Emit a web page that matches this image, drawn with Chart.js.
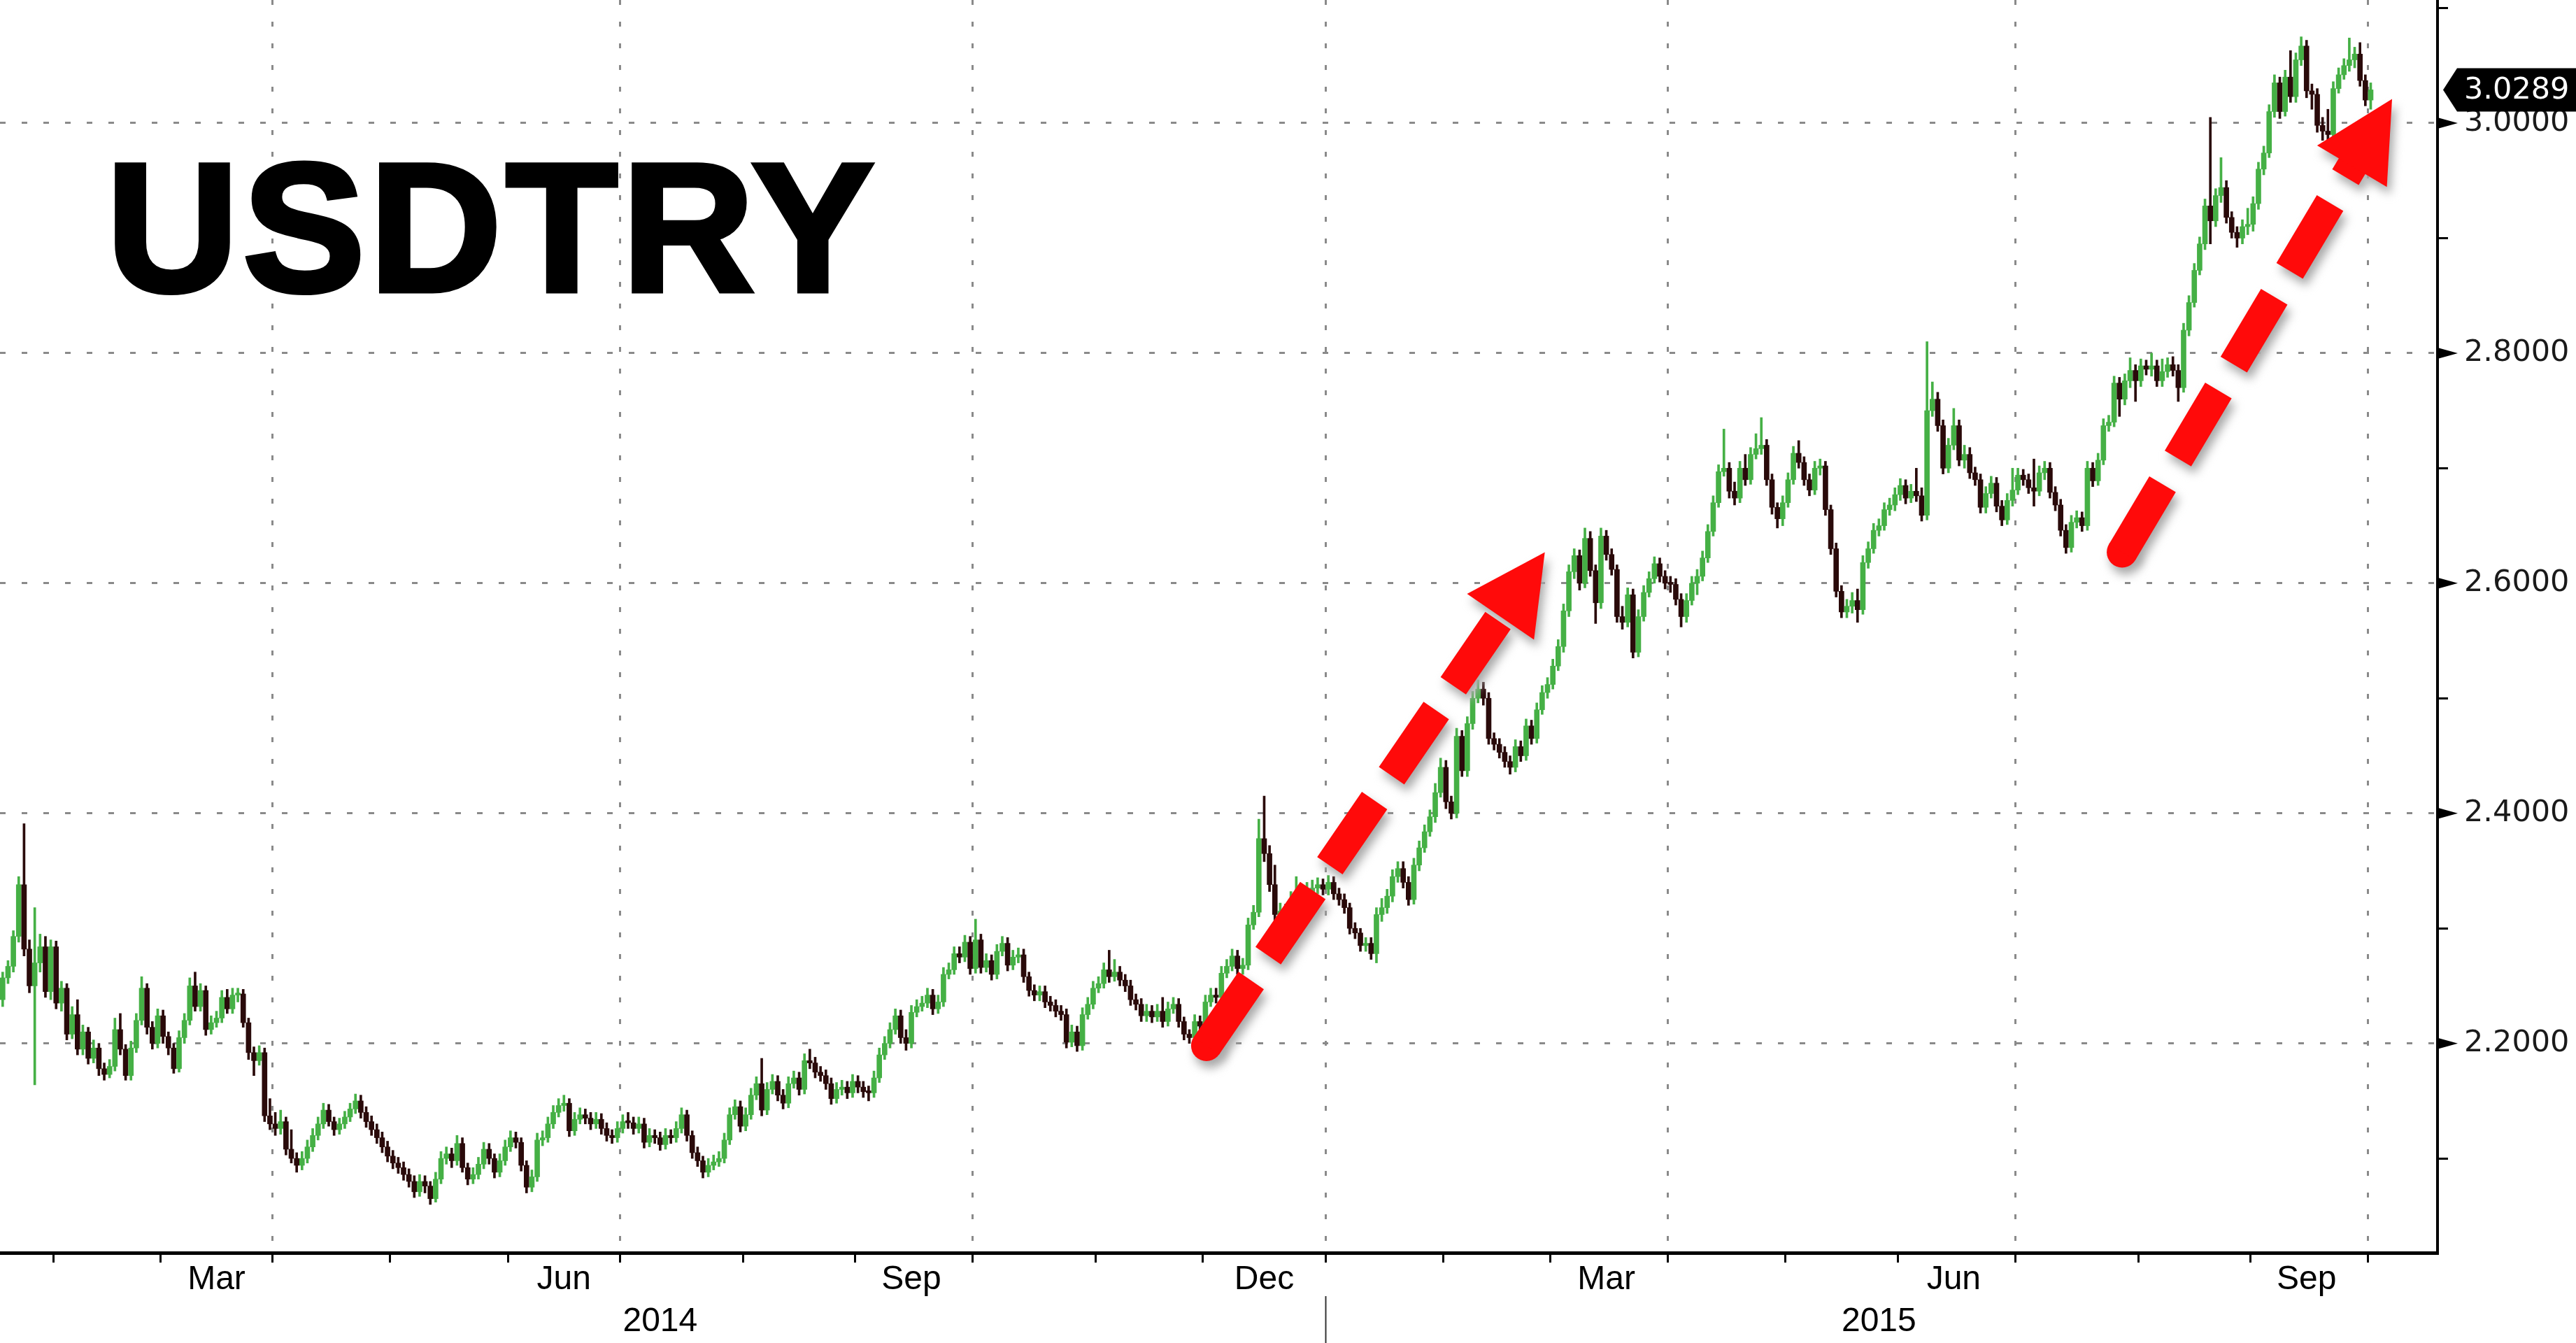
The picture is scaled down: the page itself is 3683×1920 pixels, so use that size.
<!DOCTYPE html>
<html>
<head>
<meta charset="utf-8">
<script src="https://cdn.jsdelivr.net/npm/chart.js@4.4.1/dist/chart.umd.min.js"></script>
<style>
  html, body { margin: 0; padding: 0; background: #fff; }
  canvas { display: block; }
</style>
</head>
<body>
<canvas id="usdtry" width="3683" height="1920"></canvas>
<script>
// USDTRY daily candles, 20 Jan 2014 - 1 Oct 2015 (one slot per weekday)
var startDate = '2014-01-20';
var slotCount = 456;            // weekday slots on the axis, incl. the empty space after the last bar
var firstOpen = 2.238;
var title = 'USDTRY';

var closes = [
  // 2014 Jan
  2.257, 2.267, 2.293, 2.338, 2.282, 2.250, 2.270, 2.284, 2.245, 2.284,
  // Feb
  2.235, 2.248, 2.208, 2.225, 2.195, 2.210, 2.187, 2.196, 2.178, 2.173, 2.180, 2.212, 2.195, 2.172, 2.196, 2.220, 2.248, 2.214, 2.200, 2.224,
  // Mar
  2.206, 2.196, 2.178, 2.205, 2.220, 2.250, 2.232, 2.246, 2.212, 2.218, 2.222, 2.240, 2.230, 2.242, 2.243, 2.218, 2.192, 2.185, 2.192, 2.137, 2.130,
  // Apr
  2.126, 2.132, 2.108, 2.100, 2.094, 2.100, 2.110, 2.120, 2.130, 2.142, 2.132, 2.125, 2.130, 2.136, 2.143, 2.150, 2.140, 2.132, 2.125, 2.118, 2.110, 2.102,
  // May
  2.096, 2.092, 2.086, 2.080, 2.071, 2.080, 2.076, 2.065, 2.082, 2.100, 2.104, 2.098, 2.113, 2.092, 2.082, 2.086, 2.095, 2.108, 2.100, 2.088, 2.098, 2.110,
  // Jun
  2.118, 2.114, 2.094, 2.075, 2.084, 2.116, 2.118, 2.130, 2.140, 2.146, 2.148, 2.124, 2.134, 2.138, 2.135, 2.130, 2.134, 2.126, 2.120, 2.118, 2.126,
  // Jul
  2.132, 2.131, 2.126, 2.130, 2.114, 2.120, 2.118, 2.112, 2.120, 2.118, 2.126, 2.138, 2.120, 2.105, 2.098, 2.088, 2.094, 2.097, 2.100, 2.116, 2.138, 2.145, 2.128,
  // Aug
  2.138, 2.155, 2.165, 2.142, 2.160, 2.167, 2.155, 2.148, 2.165, 2.170, 2.160, 2.185, 2.183, 2.175, 2.172, 2.165, 2.152, 2.160, 2.162, 2.157, 2.167,
  // Sep
  2.162, 2.158, 2.157, 2.170, 2.190, 2.200, 2.212, 2.224, 2.205, 2.200, 2.227, 2.232, 2.235, 2.242, 2.230, 2.236, 2.260, 2.264, 2.278, 2.275, 2.288, 2.265,
  // Oct
  2.290, 2.266, 2.272, 2.260, 2.280, 2.287, 2.268, 2.275, 2.277, 2.258, 2.246, 2.242, 2.245, 2.236, 2.233, 2.228, 2.225, 2.201, 2.210, 2.198, 2.225, 2.234, 2.248,
  // Nov
  2.252, 2.264, 2.258, 2.262, 2.255, 2.250, 2.238, 2.234, 2.224, 2.228, 2.223, 2.228, 2.219, 2.230, 2.234, 2.219, 2.208, 2.205, 2.219, 2.215,
  // Dec
  2.236, 2.242, 2.240, 2.261, 2.267, 2.276, 2.265, 2.268, 2.303, 2.314, 2.378, 2.365, 2.338, 2.312, 2.315, 2.312, 2.325, 2.330, 2.326, 2.332, 2.335, 2.338, 2.334,
  // 2015 Jan
  2.340, 2.330, 2.325, 2.318, 2.300, 2.296, 2.285, 2.287, 2.278, 2.312, 2.318, 2.328, 2.345, 2.352, 2.340, 2.325, 2.355, 2.370, 2.384, 2.397, 2.418, 2.440,
  // Feb
  2.410, 2.400, 2.467, 2.437, 2.478, 2.500, 2.508, 2.500, 2.465, 2.460, 2.453, 2.445, 2.440, 2.458, 2.450, 2.476, 2.465, 2.490, 2.505, 2.512,
  // Mar
  2.528, 2.545, 2.576, 2.610, 2.624, 2.600, 2.639, 2.611, 2.583, 2.641, 2.625, 2.612, 2.571, 2.566, 2.590, 2.540, 2.571, 2.592, 2.604, 2.617, 2.606, 2.600,
  // Apr
  2.599, 2.586, 2.571, 2.585, 2.600, 2.606, 2.622, 2.645, 2.670, 2.697, 2.700, 2.680, 2.674, 2.700, 2.690, 2.712, 2.717, 2.720, 2.690, 2.666, 2.656, 2.670,
  // May
  2.690, 2.713, 2.705, 2.690, 2.681, 2.700, 2.702, 2.664, 2.630, 2.593, 2.575, 2.580, 2.585, 2.577, 2.618, 2.630, 2.646, 2.650, 2.664, 2.668, 2.677,
  // Jun
  2.685, 2.674, 2.680, 2.676, 2.659, 2.750, 2.760, 2.737, 2.700, 2.720, 2.737, 2.707, 2.712, 2.696, 2.690, 2.666, 2.678, 2.687, 2.667, 2.655, 2.672, 2.681,
  // Jul
  2.694, 2.690, 2.683, 2.680, 2.696, 2.700, 2.679, 2.668, 2.646, 2.631, 2.653, 2.657, 2.650, 2.700, 2.689, 2.707, 2.737, 2.740, 2.774, 2.760, 2.776, 2.785, 2.776,
  // Aug
  2.789, 2.786, 2.789, 2.776, 2.784, 2.790, 2.785, 2.770, 2.820, 2.844, 2.872, 2.895, 2.928, 2.915, 2.937, 2.944, 2.918, 2.905, 2.900, 2.910, 2.912,
  // Sep
  2.930, 2.960, 2.974, 3.010, 3.035, 3.010, 3.040, 3.023, 3.055, 3.067, 3.028, 3.025, 2.998, 2.993, 2.990, 3.030, 3.042, 3.050, 3.055, 3.060, 3.037, 3.020,
  // Oct
  3.0289
];

var highs = [
  2.262, 2.272, 2.298, 2.345, 2.391, 2.290, 2.318, 2.295, 2.293, 2.290,
  2.289, 2.254, 2.252, 2.232, 2.238, 2.216, 2.214, 2.203, 2.200, 2.183, 2.186, 2.222, 2.226, 2.199, 2.202, 2.226, 2.258, 2.252, 2.219, 2.230,
  2.229, 2.210, 2.200, 2.211, 2.226, 2.257, 2.262, 2.252, 2.250, 2.224, 2.228, 2.246, 2.247, 2.248, 2.248, 2.247, 2.222, 2.197, 2.198, 2.196, 2.152,
  2.140, 2.142, 2.136, 2.125, 2.105, 2.106, 2.116, 2.126, 2.136, 2.148, 2.147, 2.136, 2.135, 2.141, 2.148, 2.156, 2.155, 2.145, 2.137, 2.130, 2.123, 2.115,
  2.107, 2.101, 2.097, 2.091, 2.085, 2.086, 2.085, 2.080, 2.088, 2.106, 2.110, 2.109, 2.120, 2.118, 2.096, 2.092, 2.101, 2.114, 2.113, 2.104, 2.104, 2.116,
  2.124, 2.123, 2.118, 2.098, 2.090, 2.122, 2.124, 2.136, 2.146, 2.152, 2.155, 2.152, 2.140, 2.144, 2.143, 2.140, 2.140, 2.139, 2.131, 2.125, 2.132,
  2.138, 2.140, 2.136, 2.136, 2.135, 2.126, 2.125, 2.123, 2.126, 2.125, 2.132, 2.144, 2.142, 2.124, 2.110, 2.102, 2.100, 2.103, 2.106, 2.122, 2.144, 2.151, 2.150,
  2.144, 2.161, 2.171, 2.187, 2.166, 2.173, 2.172, 2.160, 2.171, 2.176, 2.175, 2.191, 2.195, 2.188, 2.180, 2.177, 2.170, 2.166, 2.168, 2.167, 2.173,
  2.172, 2.167, 2.163, 2.176, 2.196, 2.206, 2.218, 2.230, 2.229, 2.212, 2.233, 2.238, 2.241, 2.248, 2.247, 2.242, 2.266, 2.270, 2.284, 2.284, 2.294, 2.293,
  2.308, 2.295, 2.278, 2.277, 2.286, 2.293, 2.292, 2.281, 2.283, 2.282, 2.262, 2.251, 2.250, 2.250, 2.241, 2.238, 2.233, 2.230, 2.216, 2.215, 2.231, 2.240, 2.254,
  2.258, 2.270, 2.281, 2.273, 2.267, 2.260, 2.255, 2.243, 2.239, 2.234, 2.233, 2.234, 2.240, 2.236, 2.240, 2.239, 2.223, 2.212, 2.225, 2.224,
  2.242, 2.248, 2.248, 2.267, 2.273, 2.282, 2.281, 2.274, 2.309, 2.320, 2.395, 2.415, 2.372, 2.355, 2.322, 2.321, 2.332, 2.345, 2.336, 2.340, 2.342, 2.344, 2.343,
  2.346, 2.345, 2.335, 2.330, 2.322, 2.305, 2.300, 2.292, 2.292, 2.318, 2.326, 2.334, 2.351, 2.358, 2.358, 2.345, 2.361, 2.376, 2.390, 2.403, 2.426, 2.448,
  2.446, 2.415, 2.474, 2.472, 2.484, 2.506, 2.516, 2.514, 2.505, 2.470, 2.465, 2.458, 2.450, 2.464, 2.463, 2.482, 2.481, 2.496, 2.511, 2.518,
  2.534, 2.551, 2.582, 2.616, 2.630, 2.629, 2.648, 2.645, 2.616, 2.648, 2.646, 2.630, 2.616, 2.580, 2.596, 2.595, 2.577, 2.598, 2.610, 2.623, 2.622, 2.611,
  2.606, 2.604, 2.591, 2.591, 2.606, 2.612, 2.628, 2.651, 2.676, 2.703, 2.734, 2.705, 2.688, 2.706, 2.712, 2.718, 2.730, 2.744, 2.725, 2.695, 2.670, 2.676,
  2.696, 2.719, 2.724, 2.710, 2.695, 2.706, 2.708, 2.706, 2.668, 2.635, 2.598, 2.586, 2.592, 2.595, 2.624, 2.636, 2.652, 2.656, 2.670, 2.674, 2.683,
  2.691, 2.690, 2.686, 2.700, 2.683, 2.810, 2.775, 2.766, 2.742, 2.726, 2.752, 2.742, 2.720, 2.718, 2.701, 2.695, 2.684, 2.693, 2.692, 2.672, 2.678, 2.700,
  2.700, 2.699, 2.695, 2.708, 2.702, 2.706, 2.705, 2.684, 2.673, 2.651, 2.659, 2.663, 2.662, 2.706, 2.705, 2.713, 2.743, 2.746, 2.780, 2.779, 2.782, 2.796, 2.790,
  2.795, 2.794, 2.800, 2.794, 2.795, 2.796, 2.797, 2.790, 2.826, 2.850, 2.878, 2.901, 2.934, 3.005, 2.943, 2.970, 2.950, 2.923, 2.910, 2.916, 2.926,
  2.936, 2.966, 2.980, 3.016, 3.042, 3.040, 3.046, 3.063, 3.061, 3.075, 3.072, 3.034, 3.030, 3.005, 3.012, 3.036, 3.048, 3.056, 3.074, 3.066, 3.070, 3.042,
  3.035
];

var lows = [
  2.232, 2.252, 2.262, 2.288, 2.276, 2.244, 2.164, 2.262, 2.240, 2.238,
  2.230, 2.228, 2.203, 2.204, 2.190, 2.190, 2.182, 2.183, 2.172, 2.168, 2.170, 2.176, 2.190, 2.168, 2.168, 2.192, 2.216, 2.208, 2.195, 2.196,
  2.200, 2.190, 2.174, 2.175, 2.200, 2.216, 2.228, 2.228, 2.207, 2.208, 2.214, 2.218, 2.226, 2.226, 2.236, 2.214, 2.186, 2.172, 2.181, 2.132, 2.125,
  2.120, 2.121, 2.103, 2.096, 2.088, 2.090, 2.096, 2.106, 2.116, 2.126, 2.128, 2.120, 2.121, 2.126, 2.132, 2.139, 2.135, 2.127, 2.120, 2.113, 2.105, 2.097,
  2.091, 2.087, 2.081, 2.075, 2.066, 2.067, 2.070, 2.060, 2.062, 2.078, 2.095, 2.092, 2.094, 2.088, 2.077, 2.078, 2.082, 2.091, 2.095, 2.083, 2.084, 2.094,
  2.106, 2.109, 2.089, 2.070, 2.071, 2.080, 2.111, 2.114, 2.126, 2.136, 2.141, 2.119, 2.120, 2.130, 2.130, 2.125, 2.126, 2.121, 2.115, 2.113, 2.114,
  2.122, 2.126, 2.121, 2.122, 2.109, 2.110, 2.113, 2.107, 2.108, 2.113, 2.114, 2.122, 2.115, 2.100, 2.093, 2.083, 2.084, 2.090, 2.093, 2.096, 2.112, 2.134, 2.123,
  2.124, 2.134, 2.151, 2.137, 2.138, 2.156, 2.150, 2.143, 2.144, 2.161, 2.155, 2.156, 2.178, 2.170, 2.167, 2.160, 2.147, 2.148, 2.155, 2.152, 2.153,
  2.157, 2.153, 2.150, 2.153, 2.166, 2.186, 2.196, 2.208, 2.200, 2.194, 2.196, 2.223, 2.228, 2.231, 2.225, 2.226, 2.232, 2.256, 2.260, 2.270, 2.271, 2.260,
  2.261, 2.261, 2.262, 2.255, 2.256, 2.276, 2.263, 2.264, 2.270, 2.253, 2.241, 2.237, 2.237, 2.231, 2.228, 2.223, 2.220, 2.196, 2.197, 2.193, 2.194, 2.221, 2.230,
  2.244, 2.248, 2.253, 2.254, 2.250, 2.245, 2.233, 2.229, 2.219, 2.219, 2.218, 2.219, 2.214, 2.215, 2.226, 2.214, 2.203, 2.200, 2.201, 2.210,
  2.211, 2.232, 2.235, 2.236, 2.257, 2.263, 2.260, 2.260, 2.264, 2.299, 2.310, 2.358, 2.332, 2.306, 2.306, 2.306, 2.308, 2.320, 2.320, 2.321, 2.327, 2.330, 2.329,
  2.329, 2.325, 2.320, 2.313, 2.295, 2.291, 2.280, 2.280, 2.273, 2.270, 2.306, 2.313, 2.323, 2.340, 2.335, 2.320, 2.321, 2.350, 2.366, 2.380, 2.392, 2.414,
  2.404, 2.395, 2.396, 2.432, 2.432, 2.473, 2.496, 2.494, 2.460, 2.455, 2.448, 2.440, 2.434, 2.436, 2.445, 2.446, 2.460, 2.461, 2.486, 2.500,
  2.508, 2.524, 2.540, 2.571, 2.604, 2.594, 2.596, 2.606, 2.565, 2.578, 2.620, 2.607, 2.566, 2.560, 2.562, 2.535, 2.536, 2.567, 2.588, 2.600, 2.601, 2.595,
  2.592, 2.581, 2.562, 2.566, 2.581, 2.590, 2.602, 2.618, 2.641, 2.666, 2.693, 2.674, 2.668, 2.670, 2.685, 2.686, 2.708, 2.712, 2.685, 2.660, 2.648, 2.650,
  2.666, 2.686, 2.700, 2.685, 2.676, 2.677, 2.694, 2.659, 2.625, 2.588, 2.570, 2.570, 2.574, 2.566, 2.573, 2.613, 2.626, 2.641, 2.646, 2.659, 2.663,
  2.672, 2.669, 2.670, 2.671, 2.654, 2.655, 2.745, 2.732, 2.695, 2.696, 2.716, 2.702, 2.700, 2.691, 2.685, 2.661, 2.661, 2.674, 2.662, 2.650, 2.651, 2.667,
  2.677, 2.685, 2.678, 2.667, 2.676, 2.690, 2.674, 2.663, 2.641, 2.626, 2.627, 2.648, 2.645, 2.646, 2.684, 2.685, 2.703, 2.732, 2.736, 2.745, 2.755, 2.770, 2.758,
  2.771, 2.781, 2.780, 2.771, 2.771, 2.779, 2.780, 2.758, 2.766, 2.815, 2.840, 2.868, 2.890, 2.895, 2.910, 2.931, 2.913, 2.900, 2.892, 2.895, 2.903,
  2.906, 2.925, 2.955, 2.970, 3.005, 3.004, 3.006, 3.018, 3.018, 3.050, 3.022, 3.012, 2.992, 2.985, 2.982, 2.986, 3.026, 3.038, 3.045, 3.048, 3.032, 3.015,
  3.012
];

var monthTicks = ['Mar', 'Jun', 'Sep', 'Dec'];
var monthNames = ['Jan', 'Feb', 'Mar', 'Apr', 'May', 'Jun', 'Jul', 'Aug', 'Sep', 'Oct', 'Nov', 'Dec'];

// the two hand drawn red arrows, [slot, price] at tail and tip
var arrows = [
  { from: [225.2, 2.198], to: [288.5, 2.627] },
  { from: [396.5, 2.627], to: [447.0, 3.021] }
];

var UP = '#45b045', DOWN = '#2a0a0a', GRID = '#8a8a8a', NONE = 'rgba(0,0,0,0)', RED = '#ff0a0a';

// weekday slots
var days = [];
var d = new Date(startDate + 'T00:00:00Z');
while (days.length < slotCount) {
  var wd = d.getUTCDay();
  if (wd !== 0 && wd !== 6) days.push(d.toISOString().slice(0, 10));
  d.setUTCDate(d.getUTCDate() + 1);
}

var monthStart = {}, quarterStart = {}, monthMid = {}, yearMid = {}, yearStart = {};
var months = {}, years = {};
days.forEach(function (s, i) {
  var m = s.slice(0, 7), y = s.slice(0, 4);
  if (!months[m]) months[m] = [i, i]; else months[m][1] = i;
  if (!years[y]) years[y] = [i, i]; else years[y][1] = i;
});
Object.keys(months).forEach(function (m) {
  var r = months[m], name = monthNames[+m.slice(5, 7) - 1];
  if (r[0] > 0) {
    monthStart[r[0]] = true;
    if (['Jan', 'Apr', 'Jul', 'Oct'].indexOf(name) >= 0) quarterStart[r[0]] = true;
  }
  if (monthTicks.indexOf(name) >= 0) monthMid[Math.floor((r[0] + r[1]) / 2)] = name;
});
Object.keys(years).forEach(function (y) {
  var r = years[y];
  yearMid[Math.floor((r[0] + r[1]) / 2)] = y;
  if (r[0] > 0) yearStart[r[0]] = true;
});

// body runs from the previous close to the close
var bodies = closes.map(function (c, i) { return [i === 0 ? firstOpen : closes[i - 1], c]; });
var wicks = closes.map(function (c, i) { return [lows[i], highs[i]]; });
var colors = bodies.map(function (b) { return b[1] >= b[0] ? UP : DOWN; });

function isMajor(v) { return Math.abs(v * 5 - Math.round(v * 5)) < 1e-6; }

function arrowShape(ctx, x0, y0, x1, y1, color) {
  var len = Math.hypot(x1 - x0, y1 - y0);
  var ux = (x1 - x0) / len, uy = (y1 - y0) / len;
  var headLen = 112, headHalf = 58, w = 44;
  var bx = x1 - ux * headLen, by = y1 - uy * headLen;
  ctx.fillStyle = color;
  ctx.strokeStyle = color;
  ctx.beginPath();
  ctx.arc(x0, y0, w / 2, 0, Math.PI * 2);
  ctx.fill();
  ctx.lineWidth = w;
  ctx.lineCap = 'butt';
  ctx.setLineDash([113, 43]);
  ctx.beginPath();
  ctx.moveTo(x0, y0);
  ctx.lineTo(bx + ux * 2, by + uy * 2);
  ctx.stroke();
  ctx.setLineDash([]);
  ctx.beginPath();
  ctx.moveTo(x1, y1);
  ctx.lineTo(bx - uy * headHalf, by + ux * headHalf);
  ctx.lineTo(bx + uy * headHalf, by - ux * headHalf);
  ctx.closePath();
  ctx.fill();
}

var overlay = {
  id: 'overlay',
  afterDraw: function (chart) {
    var ctx = chart.ctx, xs = chart.scales.x, ys = chart.scales.y, area = chart.chartArea;
    ctx.save();

    // wedges on the labelled price ticks
    ctx.fillStyle = '#000';
    ys.ticks.forEach(function (t) {
      if (!isMajor(t.value)) return;
      var py = ys.getPixelForValue(t.value);
      ctx.beginPath();
      ctx.moveTo(area.right, py - 8);
      ctx.lineTo(area.right + 29, py);
      ctx.lineTo(area.right, py + 8);
      ctx.closePath();
      ctx.fill();
    });

    // last price tag
    var last = closes[closes.length - 1];
    var ty = ys.getPixelForValue(last);
    ctx.beginPath();
    ctx.moveTo(area.right + 8, ty);
    ctx.lineTo(area.right + 28, ty - 31);
    ctx.lineTo(chart.width, ty - 31);
    ctx.lineTo(chart.width, ty + 31);
    ctx.lineTo(area.right + 28, ty + 31);
    ctx.closePath();
    ctx.fill();
    ctx.fillStyle = '#fff';
    ctx.font = '43px "DejaVu Sans"';
    ctx.textAlign = 'left';
    ctx.textBaseline = 'middle';
    ctx.fillText(last.toFixed(4), area.right + 38, ty + 1);

    // big title, stroked a little for the heavier face
    ctx.fillStyle = '#000';
    ctx.strokeStyle = '#000';
    ctx.lineWidth = 7;
    ctx.lineJoin = 'miter';
    ctx.font = 'bold 262px "Liberation Sans"';
    ctx.textBaseline = 'alphabetic';
    ctx.letterSpacing = '6px';
    ctx.fillText(title, area.left + 152, area.top + 416);
    ctx.strokeText(title, area.left + 152, area.top + 416);
    ctx.letterSpacing = '0px';

    // arrows: soft shadow first, then red
    arrows.forEach(function (a) {
      var x0 = xs.getPixelForValue(a.from[0]), y0 = ys.getPixelForValue(a.from[1]);
      var x1 = xs.getPixelForValue(a.to[0]), y1 = ys.getPixelForValue(a.to[1]);
      ctx.save();
      ctx.filter = 'blur(7px)';
      ctx.translate(5, 10);
      arrowShape(ctx, x0, y0, x1, y1, '#a8a8a8');
      ctx.restore();
      arrowShape(ctx, x0, y0, x1, y1, RED);
    });

    ctx.restore();
  }
};

var labelFont = { family: 'Liberation Sans', size: 48, lineHeight: 1 };

new Chart(document.getElementById('usdtry'), {
  type: 'bar',
  data: {
    labels: days,
    datasets: [
      { data: wicks, backgroundColor: colors, barThickness: 3, grouped: false, order: 2, borderWidth: 0 },
      { data: bodies, backgroundColor: colors, barThickness: 7, grouped: false, order: 1, borderWidth: 0, minBarLength: 3 }
    ]
  },
  options: {
    responsive: false,
    devicePixelRatio: 1,
    animation: false,
    layout: { padding: 0, autoPadding: false },
    plugins: { legend: { display: false }, tooltip: { enabled: false } },
    scales: {
      x: {
        type: 'category', position: 'bottom', offset: true, weight: 0,
        grid: {
          offset: true, drawOnChartArea: true, tickLength: 14, lineWidth: 3, tickWidth: 3, tickBorderDash: [],
          color: function (c) { return quarterStart[c.index] ? GRID : NONE; },
          tickColor: function (c) { return monthStart[c.index] ? '#000' : NONE; }
        },
        border: { display: true, color: '#000', width: 5, dash: [7, 24] },
        ticks: {
          autoSkip: false, maxRotation: 0, minRotation: 0, padding: 1, color: '#000', font: labelFont,
          callback: function (v, i) { return monthMid[i] || ''; }
        },
        afterFit: function (s) { s.height = 62; s.paddingLeft = 0; s.paddingRight = 0; }
      },
      xYear: {
        type: 'category', position: 'bottom', offset: true, weight: 1,
        grid: {
          offset: true, drawOnChartArea: false, tickLength: 67, tickWidth: 2, tickBorderDash: [],
          color: NONE,
          tickColor: function (c) { return yearStart[c.index] ? '#333' : NONE; }
        },
        border: { display: false },
        ticks: {
          autoSkip: false, maxRotation: 0, minRotation: 0, padding: -54, color: '#000', font: labelFont,
          callback: function (v, i) { return yearMid[i] || ''; }
        },
        afterFit: function (s) { s.height = 67; s.paddingLeft = 0; s.paddingRight = 0; }
      },
      y: {
        position: 'right', min: 2.018, max: 3.107,
        grid: {
          drawOnChartArea: true, lineWidth: 3, tickLength: 15, tickWidth: 3, tickBorderDash: [],
          color: function (c) { return c.tick && isMajor(c.tick.value) ? GRID : NONE; },
          tickColor: function (c) { return c.tick && !isMajor(c.tick.value) ? '#000' : NONE; }
        },
        border: { display: true, color: '#000', width: 4, dash: [8, 23] },
        ticks: {
          stepSize: 0.1, includeBounds: false, autoSkip: false, padding: 23, color: '#1a1a1a',
          font: { family: 'DejaVu Sans', size: 43 },
          callback: function (v) { return isMajor(v) ? v.toFixed(4) : ''; }
        },
        afterFit: function (s) { s.width = 198; s.paddingTop = 0; s.paddingBottom = 0; }
      }
    }
  },
  plugins: [overlay]
});
</script>
</body>
</html>
